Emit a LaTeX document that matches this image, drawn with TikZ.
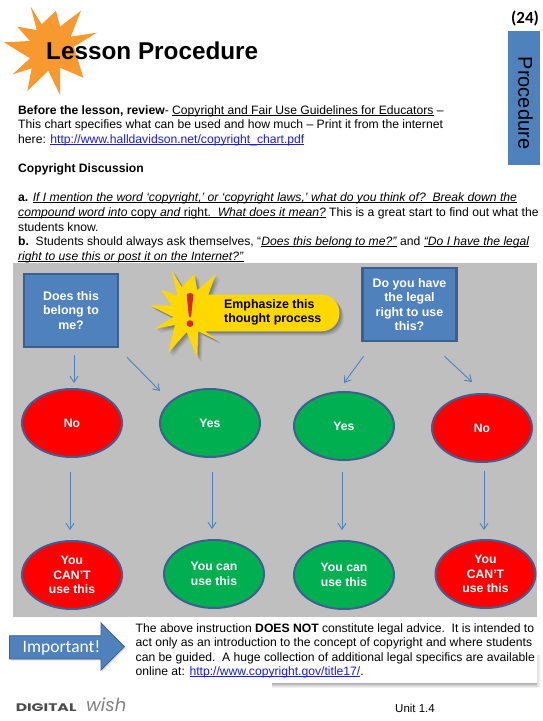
\documentclass[tikz,border=0pt]{standalone}
\usepackage{fontspec}
\setmainfont{Liberation Sans}
\newfontfamily\calib{Carlito}
\newfontfamily\logofont{Poppins}
\usetikzlibrary{arrows.meta,shapes.geometric}
\definecolor{panelgray}{HTML}{BFBFBF}
\definecolor{boxblue}{HTML}{4F81BD}
\definecolor{boxedge}{HTML}{3D5F8F}
\definecolor{ellipseedge}{HTML}{3F5F93}
\definecolor{goodgreen}{HTML}{00B050}
\definecolor{badred}{HTML}{FF0000}
\definecolor{starorange}{HTML}{F7992E}
\definecolor{flashyellow}{HTML}{FFD800}
\definecolor{bangred}{HTML}{D9262C}
\definecolor{linkblue}{HTML}{1A1AF0}
\newsavebox{\ulinebox}
\newcommand{\ulx}[1]{\sbox{\ulinebox}{#1}\rlap{\usebox{\ulinebox}}\rule[-1.7pt]{\wd\ulinebox}{0.75pt}}
\newcommand{\linkx}[1]{\textcolor{linkblue}{\ulx{#1}}}
\newcommand{\bodysize}{\fontsize{12.15}{14}\selectfont}
\newcommand{\starpath}{(171.7,270.3) -- (181.7,287) -- (194.3,274.3) -- (197.3,290.3) -- (215.7,274.3) -- (208.3,294.7) -- (321,294.7) .. controls (332,294.7) and (339.5,303) .. (339.5,313) .. controls (339.5,323) and (332,331.3) .. (321,331.3) -- (205,331.3) -- (217.3,340.3) -- (198.3,331.3) -- (197.3,357.7) -- (186.7,332) -- (168.3,352.7) -- (175,325) -- (155,328.7) -- (173.3,317) -- (150,305.3) -- (171.7,305.3) -- (161,289.7) -- (177.3,295.3) -- cycle}
\tikzset{
  x=1pt,y=-1pt,
  txt/.style={anchor=base west,inner sep=0pt,font=\bodysize,text=black},
  questionbox/.style={draw=boxedge,line width=2.6pt,fill=boxblue,inner sep=0pt,align=center,text=white,font=\fontsize{12.4}{14.4}\selectfont\bfseries},
  answer/.style={ellipse,draw=ellipseedge,line width=2pt,minimum width=100pt,minimum height=68pt,inner sep=0pt,align=center,text=white,font=\fontsize{12.2}{14.6}\selectfont\bfseries},
  yes/.style={answer,fill=goodgreen},
  no/.style={answer,fill=badred},
  flow/.style={draw=boxblue,line width=0.9pt,-{Straight Barb[length=6pt,width=8pt,line width=0.9pt]}}
}
\begin{document}
\begin{tikzpicture}
\useasboundingbox (0,0) rectangle (543,721);
\fill[white] (0,0) rectangle (543,721);

% title area
\fill[starorange] (30.7,6.7) -- (41.7,24.3) -- (56,10.7) -- (60,26.7) -- (81,10.7) -- (70.7,36.7) -- (96.7,32.7) -- (74,46.7) -- (83.3,77.7) -- (60,67.7) -- (60,95) -- (48.3,70.7) -- (27.3,91) -- (31.7,68.3) -- (12.7,74.3) -- (30,58.3) -- (4,42.3) -- (30,41) -- (17.3,26.7) -- (36.7,30) -- cycle;
\node[anchor=base west,inner sep=0pt,font=\fontsize{24.3}{26}\selectfont\bfseries] (title) at (46,59.5) {Lesson Procedure};
\node[anchor=center,inner sep=0pt,font=\calib\fontsize{17}{20}\selectfont\bfseries] (pagenum) at (525,18) {(24)};
\node[fill=boxblue,minimum width=32pt,minimum height=134pt,inner sep=0pt] (procbox) at (524,98) {};
\node[rotate=-90,inner sep=0pt,font=\fontsize{20}{22}\selectfont] (proctext) at (525.5,103) {Procedure};

% body text
\node[txt] (l1) at (18,114.5) {\textbf{Before the lesson, review}- \ulx{Copyright and Fair Use Guidelines for Educators} –};
\node[txt] (l2) at (18,128.5) {This chart specifies what can be used and how much – Print it from the internet};
\node[txt] (l3) at (18,143.5) {here: \linkx{http://www.halldavidson.net/copyright\_chart.pdf}};
\node[txt] (l4) at (18,172.5) {\textbf{Copyright Discussion}};
\node[txt] (l5) at (18,201.5) {\textbf{a.} \ulx{\textit{If I mention the word ‘copyright,’ or ‘copyright laws,’ what do you think of?\ \ Break down the}}};
\node[txt] (l6) at (18,216.5) {\ulx{\textit{compound word into} copy \textit{and} right.\ \ \textit{What does it mean?}} This is a great start to find out what the};
\node[txt] (l7) at (18,231.5) {students know.};
\node[txt] (l8) at (18,245.5) {\textbf{b.}\ \ Students should always ask themselves, “\ulx{\textit{Does this belong to me?”}} and \ulx{\textit{“Do I have the legal}}};
\node[txt] (l9) at (18,260.5) {\ulx{\textit{right to use this or post it on the Internet?”}}};

% panel
\fill[panelgray] (13,263) rectangle (537,616.5);

% callout
\foreach \d/\o in {4.5/0.06,3.5/0.08,2.5/0.10,1.5/0.12}{
  \fill[black,opacity=\o,shift={(\d pt,-\d pt)}] \starpath;
}
\fill[flashyellow] \starpath;
\fill[bangred] (186.7,295) .. controls (187,292.5) and (193,292.5) .. (193.3,295) -- (191.2,316) .. controls (191,318) and (189,318) .. (188.8,316) -- cycle;
\fill[bangred] (190,323.6) circle (3.4);
\node[anchor=west,inner sep=0pt,align=left,font=\fontsize{12.4}{14}\selectfont\bfseries] (emph) at (224,312.5) {Emphasize this\\thought process};

% question boxes
\node[questionbox,minimum width=94pt,minimum height=73pt] (q1) at (71,310.5) {Does this\\belong to\\me?};
\node[questionbox,minimum width=94pt,minimum height=73pt] (q2) at (409.5,304.5) {Do you have\\the legal\\right to use\\this?};

% answers
\node[no] (a1) at (72,423) {No};
\node[yes] (a2) at (210,423) {Yes};
\node[yes] (a3) at (344,426) {Yes};
\node[no] (a4) at (482,428) {No};
\node[no] (b1) at (72,575) {You\\CAN'T\\use this};
\node[yes] (b2) at (214,574) {You can\\use this};
\node[yes] (b3) at (344,575) {You can\\use this};
\node[no] (b4) at (485.5,574) {You\\CAN'T\\use this};

% connectors
\draw[flow] ([shift={(3pt,-7pt)}]q1.south) -- ([shift={(2pt,5pt)}]a1.north);
\draw[flow] ([shift={(56pt,-9pt)}]q1.south) -- ([shift={(-50pt,-3pt)}]a2.north);
\draw[flow] ([shift={(-46pt,-14pt)}]q2.south) -- ([shift={(0pt,8pt)}]a3.north);
\draw[flow] ([shift={(35pt,-14pt)}]q2.south) -- ([shift={(-10pt,11pt)}]a4.north);
\draw[flow] ([shift={(-2pt,-14pt)}]a1.south) -- ([shift={(-2pt,10pt)}]b1.north);
\draw[flow] ([shift={(2pt,-14pt)}]a2.south) -- ([shift={(-2pt,10pt)}]b2.north);
\draw[flow] ([shift={(-2pt,-11pt)}]a3.south) -- ([shift={(-2pt,10pt)}]b3.north);
\draw[flow] ([shift={(2pt,-8pt)}]a4.south) -- ([shift={(-1.5pt,9pt)}]b4.north);

% note shadow
\shade[top color=black!30,bottom color=white] (272,683) rectangle (537,688);
\shade[left color=black!12,right color=white] (537,655) rectangle (541,686);

% important arrow
\fill[black,opacity=0.12] (10.5,637) -- (102,637) -- (102,624) -- (125.5,648) -- (102,672) -- (102,660.5) -- (10.5,660.5) -- cycle;
\draw[fill=boxblue,draw=boxedge,line width=0.8pt] (9.4,635.7) -- (101,635.7) -- (101,623) -- (124.4,646.7) -- (101,670) -- (101,659) -- (9.4,659) -- cycle;
\node[inner sep=0pt,text=white,font=\calib\fontsize{17.5}{20}\selectfont] (imp) at (61.5,648) {Important!};

% note text
\node[txt] (n1) at (135.5,632) {The above instruction \textbf{DOES NOT} constitute legal advice.\ \ It is intended to};
\node[txt] (n2) at (135.5,646.5) {act only as an introduction to the concept of copyright and where students};
\node[txt] (n3) at (135.5,661) {can be guided.\ \ A huge collection of additional legal specifics are available};
\node[txt] (n4) at (135.5,675.5) {online at: \linkx{http://www.copyright.gov/title17/}.};

% footer
\node[anchor=west,inner sep=0pt,text=black!70,font=\logofont\fontsize{11}{13}\selectfont\bfseries,xscale=1.42] (logo) at (15.5,708) {DIGITAL};
\node[anchor=west,inner sep=0pt,text=black!50,font=\logofont\fontsize{18}{20}\selectfont\itshape] (wish) at (86,705) {wish};
\node[anchor=west,inner sep=0pt,font=\fontsize{11.5}{13}\selectfont] (unit) at (395,708) {Unit 1.4};
\end{tikzpicture}
\end{document}
